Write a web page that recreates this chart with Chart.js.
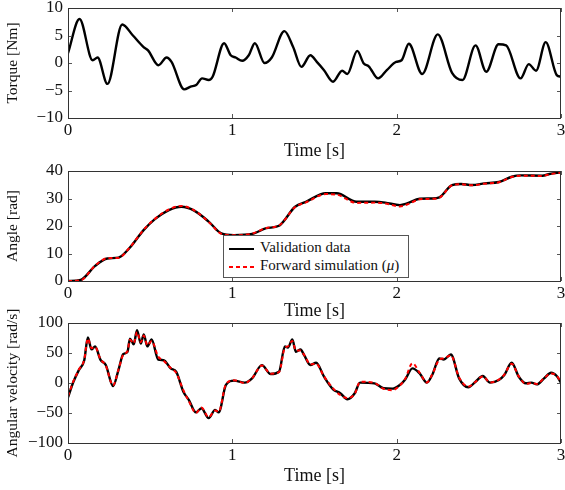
<!DOCTYPE html>
<html>
<head>
<meta charset="utf-8">
<script src="https://cdn.jsdelivr.net/npm/chart.js@4.4.1/dist/chart.umd.min.js"></script>
<style>
  body { margin: 0; background: #fff; }
  #wrap { position: relative; width: 565px; height: 490px; }
  canvas { position: absolute; left: 0; }
  #legend {
    position: absolute; left: 223px; top: 235px; width: 184px; height: 41px;
    border: 1px solid #555; background: #fff;
    font-family: 'Liberation Serif', serif; font-size: 15px; color: #111;
  }
  #legend .row { position: absolute; left: 5px; height: 18px; line-height: 18px; }
  #legend .sample { display: inline-block; width: 25px; height: 2px; vertical-align: middle; margin-right: 6px; }
</style>
</head>
<body>
<div id="wrap">
  <canvas id="c1" width="565" height="162" style="top:0px"></canvas>
  <canvas id="c2" width="565" height="160" style="top:162px"></canvas>
  <canvas id="c3" width="565" height="182" style="top:305px"></canvas>
  <div id="legend">
    <div class="row" style="top:2px"><span class="sample" style="background:#000"></span>Validation data</div>
    <div class="row" style="top:20px"><span class="sample" style="background:repeating-linear-gradient(to right,#f00 0 4px,transparent 4px 7px)"></span>Forward simulation (<i>μ</i>)</div>
  </div>
</div>
<script>
// torque input
const torqueTime = [0, 0.07, 0.15, 0.18, 0.24, 0.33, 0.395, 0.46, 0.487, 0.55, 0.60, 0.63, 0.707, 0.746, 0.78, 0.816, 0.856, 0.88,
  0.95, 0.99, 1.02, 1.06, 1.10, 1.137, 1.196, 1.24, 1.317, 1.37, 1.42, 1.475, 1.514, 1.558, 1.613, 1.668, 1.70, 1.76, 1.80, 1.83,
  1.887, 1.94, 1.997, 2.03, 2.074, 2.155, 2.25, 2.337, 2.40, 2.48, 2.545, 2.62, 2.666, 2.754, 2.804, 2.848, 2.907, 2.974, 3.0];
const torque = [1.8, 8, 0.5, 1, -3.8, 7, 5, 2.9, 2.3, -0.4, 1, 0.2, -4.8, -4.3, -4, -2.8, -3.1, -2.5,
  3.6, 1.4, 1, 0.4, 1.4, 3.6, 0, 1, 5.8, 2.9, -0.7, 1.4, 0.2, -1.3, -3.4, -1.4, -2, 2.2, -0.1, -0.6,
  -2.8, -1.3, 0.2, 0.5, 3.5, -2, 5.2, -1.8, -3.1, 3.2, -1.6, 3.4, 3.2, -2.8, -0.2, -1.4, 3.8, -2.2, -2.5];

// joint angle
const angleTime = [0, 0.077, 0.165, 0.24, 0.307, 0.373, 0.46, 0.527, 0.614, 0.69, 0.768, 0.856, 0.933, 1.01, 1.12, 1.207,
  1.284, 1.382, 1.448, 1.569, 1.635, 1.756, 1.865, 1.93, 2.02, 2.063, 2.14, 2.216, 2.26, 2.337, 2.392, 2.458, 2.535, 2.622,
  2.70, 2.754, 2.886, 2.93, 3.0];
const angleMeas = [0, 0.4, 5.5, 8.2, 8.5, 11.9, 18.5, 22.4, 25.8, 27, 25.6, 21.6, 17.3, 16.7, 17.1, 19.2,
  20.1, 27, 28.8, 31.9, 31.9, 28.8, 28.8, 28.5, 27.6, 28.2, 29.9, 30, 30.4, 34.9, 35.3, 34.9, 35.5, 36,
  37.9, 38.4, 38.3, 38.9, 39.5];
const angleSim = [0, 0.3, 5.6, 8.3, 8.4, 12, 18.6, 22.5, 26, 27.3, 25.7, 21.5, 17.2, 16.6, 17.2, 19.3,
  20.2, 26.9, 28.6, 31.6, 31.4, 28.4, 28.5, 28.2, 27.1, 27.8, 29.7, 29.9, 30.3, 34.8, 35.2, 34.8, 35.4, 35.9,
  37.8, 38.3, 38.2, 38.8, 39.4];

// angular velocity
const velTime = [0, 0.033, 0.066, 0.099, 0.121, 0.143, 0.165, 0.197, 0.23, 0.274, 0.307, 0.336, 0.362, 0.377, 0.40, 0.42,
  0.443, 0.461, 0.483, 0.509, 0.549, 0.582, 0.625, 0.658, 0.702, 0.735, 0.779, 0.812, 0.856, 0.895, 0.917, 0.961, 1.01,
  1.075, 1.12, 1.18, 1.233, 1.284, 1.32, 1.338, 1.365, 1.387, 1.415, 1.437, 1.475, 1.51, 1.558, 1.613, 1.657, 1.70, 1.745,
  1.777, 1.865, 1.92, 1.975, 2.019, 2.052, 2.096, 2.14, 2.184, 2.216, 2.26, 2.287, 2.33, 2.38, 2.436, 2.48, 2.524, 2.568,
  2.622, 2.655, 2.70, 2.743, 2.787, 2.82, 2.853, 2.897, 2.94, 2.974, 3.0];
const velMeas = [-24, 2, 21.5, 38, 76, 56, 61, 39, 30, -5, 21.5, 48, 52, 74, 64.6, 88,
  65.7, 81, 61, 72.4, 39, 38, 24.3, 18.8, -14.4, -28, -49, -42, -58.6, -44.8, -49, -3.3, 3.9,
  0.6, 7.7, 29.8, 15, 18.8, 61, 59, 72.4, 52, 55.8, 46.4, 30, 33.7, 10.5, -10.5, -17, -27, -17,
  0.6, -0.6, -8.8, -9.4, -3.3, 6, 24.3, 16, 0.6, 13.3, 40.9, 39.2, 47.5, 7.7, -7.2, 2.2, 11.6, 0.6,
  5, 13.3, 33.7, 10.5, -0.5, 0.6, -2.2, 7.7, 17.1, 11.6, 0.6];
const velSim = [-22, 3, 22, 39, 74, 58, 60, 40, 29, -4, 22, 47, 53, 72, 66, 85,
  68, 79, 63, 70, 44, 37, 25, 17, -12, -30, -50, -41, -57, -46, -48, -2, 4.5,
  0, 8, 29, 15.5, 18, 59, 61, 70, 54, 54, 47, 31, 32, 11, -9, -20, -25, -18,
  2, 0, -9.5, -12, -4, 7, 33, 17, 1, 14, 39, 41, 46, 9, -6, 2, 11, 1,
  5.5, 14, 32, 11, -1.5, 0, -1.5, 8, 16, 12, 1.5];

const serif = "'Liberation Serif', 'Times New Roman', serif";

function pts(xs, ys) {
  return xs.map((x, i) => ({ x: x, y: ys[i] }));
}

function minusSign(v) {
  return String(v).replace('-', '\u2212');
}

// pgfplots style frame with inward ticks
const framePlugin = {
  id: 'frame',
  afterDraw(chart) {
    const { ctx, chartArea: a, scales } = chart;
    ctx.save();
    ctx.strokeStyle = '#555';
    ctx.lineWidth = 1;
    ctx.beginPath();
    scales.x.ticks.forEach(t => {
      const px = Math.round(scales.x.getPixelForValue(t.value)) + 0.5;
      ctx.moveTo(px, a.bottom); ctx.lineTo(px, a.bottom - 4);
      ctx.moveTo(px, a.top); ctx.lineTo(px, a.top + 4);
    });
    scales.y.ticks.forEach(t => {
      const py = Math.round(scales.y.getPixelForValue(t.value)) + 0.5;
      ctx.moveTo(a.left, py); ctx.lineTo(a.left + 4, py);
      ctx.moveTo(a.right, py); ctx.lineTo(a.right - 4, py);
    });
    ctx.stroke();
    ctx.strokeStyle = '#333';
    ctx.strokeRect(Math.round(a.left) + 0.5, Math.round(a.top) + 0.5,
      Math.round(a.right - a.left) - 1, Math.round(a.bottom - a.top));
    ctx.restore();
  }
};

function makeChart(id, datasets, yMin, yMax, yStep, yTitle, padTop, plotH) {
  const canvas = document.getElementById(id);
  const xAxisH = canvas.height - padTop - plotH;
  return new Chart(canvas, {
    type: 'line',
    data: { datasets: datasets },
    options: {
      responsive: false,
      animation: false,
      layout: { padding: { top: padTop, right: 4, left: 0, bottom: 0 } },
      plugins: { legend: { display: false }, tooltip: { enabled: false } },
      elements: { point: { radius: 0 } },
      scales: {
        x: {
          type: 'linear', min: 0, max: 3,
          ticks: { stepSize: 1, color: '#111', font: { family: serif, size: 17 }, padding: 2, maxRotation: 0 },
          grid: { display: false, drawTicks: false },
          border: { display: false },
          title: { display: true, text: 'Time [s]', color: '#111', font: { family: serif, size: 18 }, padding: { top: 0, bottom: 0 } },
          afterFit: s => { s.height = xAxisH; s.paddingLeft = 0; s.paddingRight = 0; }
        },
        y: {
          min: yMin, max: yMax,
          ticks: { stepSize: yStep, color: '#111', font: { family: serif, size: 17 }, padding: 5, callback: v => minusSign(v) },
          grid: { display: false, drawTicks: false },
          border: { display: false },
          title: { display: true, text: yTitle, color: '#111', font: { family: serif, size: 15.5 }, padding: { top: 4, bottom: 0 } },
          afterFit: s => { s.width = 68; s.paddingTop = 0; s.paddingBottom = 0; }
        }
      }
    },
    plugins: [framePlugin]
  });
}

// measured line underneath, dashed simulation on top
function meas(xs, ys) {
  return { data: pts(xs, ys), order: 2, borderColor: '#000', borderWidth: 2.4, cubicInterpolationMode: 'monotone', fill: false };
}
function sim(xs, ys) {
  return { data: pts(xs, ys), order: 1, borderColor: '#f00', borderWidth: 2, borderDash: [4, 3], cubicInterpolationMode: 'monotone', fill: false };
}

makeChart('c1', [meas(torqueTime, torque)], -10, 10, 5, 'Torque [Nm]', 8, 110);
makeChart('c2', [meas(angleTime, angleMeas), sim(angleTime, angleSim)], 0, 40, 10, 'Angle [rad]', 9, 110);
makeChart('c3', [meas(velTime, velMeas), sim(velTime, velSim)], -100, 100, 50, 'Angular velocity [rad/s]', 18, 120);
</script>
</body>
</html>
